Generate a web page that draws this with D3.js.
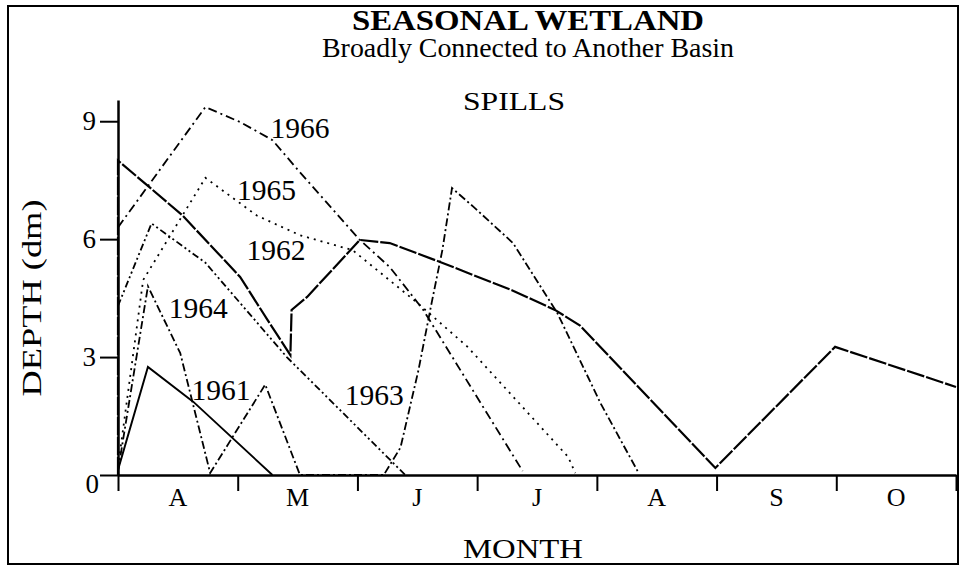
<!DOCTYPE html>
<html>
<head>
<meta charset="utf-8">
<style>
  body { margin: 0; background: #fff; }
  text { font-family: "Liberation Serif", "DejaVu Serif", serif; fill: #000; }
</style>
</head>
<body>
<script src="https://d3js.org/d3.v7.min.js"></script>
<script>
// month index runs 0 (1 April) .. 7 (end of October), depth in dm
var months = ['A', 'M', 'J', 'J', 'A', 'S', 'O'];
var depthTicks = [0, 3, 6, 9];

var y1961 = [[0, 0.13], [0.25, 2.75], [0.63, 1.86], [1.29, 0]];
var y1962 = [[0, 0], [0, 8.0], [0.24, 7.38], [0.54, 6.6], [1.02, 5.04], [1.25, 3.94], [1.44, 3.05],
             [1.45, 4.2], [1.58, 4.53], [2.02, 5.98], [2.27, 5.9], [2.69, 5.42], [3.29, 4.7],
             [3.65, 4.2], [3.86, 3.8], [4.99, 0.18], [5.99, 3.26], [7.0, 2.24]];
var y1963 = [[0, 4.3], [0.28, 6.4], [0.73, 5.4], [1.41, 3.0], [2.4, 0]];
var y1964 = [[0, 0.1], [0.25, 4.8], [0.52, 3.1], [0.77, 0.05], [1.23, 2.3], [1.52, 0], [2.22, 0],
             [2.36, 0.7], [2.51, 2.67], [2.62, 4.38], [2.71, 5.73], [2.79, 7.3], [2.97, 6.82],
             [3.3, 5.9], [3.67, 4.12], [4.03, 1.83], [4.34, 0.1]];
var y1965 = [[0, 0.2], [0.21, 4.96], [0.73, 7.56], [1.16, 6.6], [1.52, 6.1], [1.96, 5.72],
             [2.5, 4.38], [2.92, 3.26], [3.76, 0.46], [3.82, 0.05]];
var y1966 = [[0, 6.3], [0.73, 9.36], [1.02, 8.98], [1.29, 8.52], [1.52, 7.7], [2.02, 5.98],
             [2.27, 5.29], [2.55, 4.2], [3.38, 0.1]];

var series = [
    {year: '1961', pts: y1961, dash: null, w: 1.9, lab: [0.86, 2.16]},
    {year: '1962', pts: y1962, dash: '18,2', w: 2.2, lab: [1.32, 5.73]},
    {year: '1963', pts: y1963, dash: '7,3,2,3,2,3', w: 1.8, lab: [2.14, 2.04]},
    {year: '1964', pts: y1964, dash: '8,3,2,3', w: 1.8, lab: [0.67, 4.25]},
    {year: '1965', pts: y1965, dash: '2,5', w: 1.8, lab: [1.24, 7.25]},
    {year: '1966', pts: y1966, dash: '9,4,2,4', w: 1.8, lab: [1.52, 8.83]}
];

var W = 961, H = 570;
var svg = d3.select('body').append('svg')
    .attr('width', W)
    .attr('height', H);

svg.append('rect')
    .attr('x', 8).attr('y', 6)
    .attr('width', 950).attr('height', 558)
    .attr('fill', 'none')
    .attr('stroke', '#000')
    .attr('stroke-width', 2);

var x = d3.scaleLinear().domain([0, 7]).range([118, 956]);
var y = d3.scaleLinear().domain([0, 9.54]).range([475, 100]);

// titles
svg.append('text').attr('x', 528).attr('y', 30)
    .attr('text-anchor', 'middle').attr('font-size', 29).attr('font-weight', 'bold')
    .attr('textLength', 352).attr('lengthAdjust', 'spacingAndGlyphs')
    .text('SEASONAL WETLAND');
svg.append('text').attr('x', 528).attr('y', 57)
    .attr('text-anchor', 'middle').attr('font-size', 27)
    .attr('textLength', 412).attr('lengthAdjust', 'spacingAndGlyphs')
    .text('Broadly Connected to Another Basin');
svg.append('text').attr('x', 514).attr('y', 110)
    .attr('text-anchor', 'middle').attr('font-size', 26)
    .attr('textLength', 102).attr('lengthAdjust', 'spacingAndGlyphs')
    .text('SPILLS');

// axes
var yAxis = svg.append('g')
    .attr('transform', 'translate(118,0)')
    .call(d3.axisLeft(y).tickValues(depthTicks).tickSize(18).tickSizeOuter(0).tickPadding(4));
yAxis.select('.domain').attr('stroke-width', 2.5);
yAxis.selectAll('.tick line').attr('stroke-width', 2);
yAxis.selectAll('.tick text')
    .attr('font-family', '"Liberation Serif", serif').attr('font-size', 27);
yAxis.selectAll('.tick').filter(d => d === 0).select('text')
    .attr('dx', 3).attr('dy', '0.65em');

var xAxis = svg.append('g')
    .attr('transform', 'translate(0,475)')
    .call(d3.axisBottom(x).tickValues(d3.range(0, 8)).tickSize(16).tickSizeOuter(0).tickFormat(''));
xAxis.select('.domain').attr('stroke-width', 2.5);
xAxis.selectAll('.tick line').attr('stroke-width', 2);

svg.append('g').selectAll('text')
    .data(months)
    .enter().append('text')
    .attr('x', (d, i) => x(i + 0.5))
    .attr('y', 506)
    .attr('text-anchor', 'middle')
    .attr('font-size', 26)
    .text(d => d);

svg.append('text').attr('x', 523).attr('y', 558)
    .attr('text-anchor', 'middle').attr('font-size', 27)
    .attr('textLength', 120).attr('lengthAdjust', 'spacingAndGlyphs')
    .text('MONTH');
svg.append('text')
    .attr('transform', 'translate(41,298) rotate(-90)')
    .attr('text-anchor', 'middle').attr('font-size', 28)
    .attr('textLength', 197).attr('lengthAdjust', 'spacingAndGlyphs')
    .text('DEPTH (dm)');

// lines
var line = d3.line()
    .x(d => x(d[0]))
    .y(d => y(d[1]));

var g = svg.selectAll('g.year')
    .data(series)
    .enter().append('g')
    .attr('class', 'year');

g.append('path')
    .attr('d', d => line(d.pts))
    .attr('fill', 'none')
    .attr('stroke', '#000')
    .attr('stroke-width', d => d.w)
    .attr('stroke-dasharray', d => d.dash);

g.append('text')
    .attr('x', d => x(d.lab[0]))
    .attr('y', d => y(d.lab[1]))
    .attr('dy', '0.35em')
    .attr('text-anchor', 'middle')
    .attr('font-size', 29)
    .attr('textLength', 59).attr('lengthAdjust', 'spacingAndGlyphs')
    .text(d => d.year);
</script>
</body>
</html>
